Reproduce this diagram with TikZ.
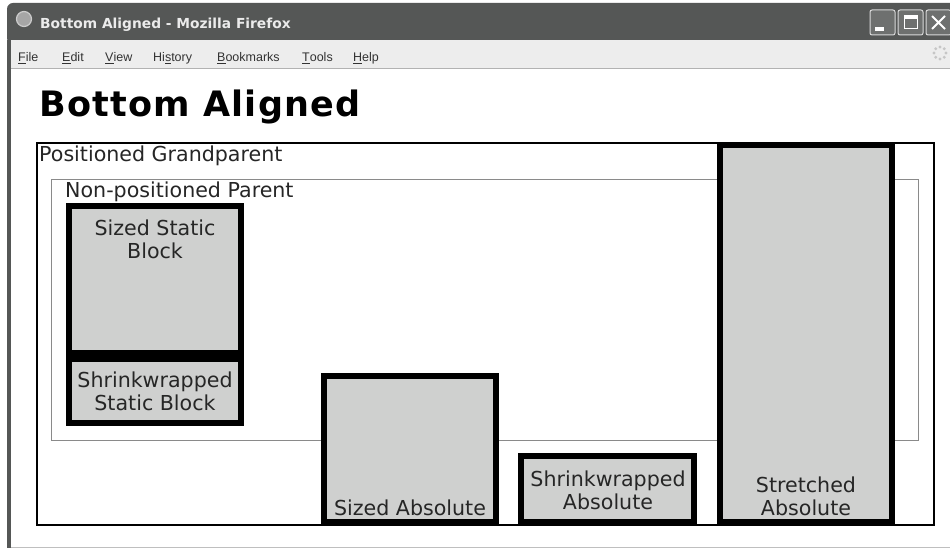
\documentclass[tikz,border=0pt]{standalone}
\usepackage{fontspec}
\setmainfont{DejaVu Sans}
\newfontfamily\menufont{Liberation Sans}
\newfontfamily\headfont[LetterSpace=3.5]{DejaVu Sans}
\definecolor{blockgray}{HTML}{CFD0CF}
\definecolor{titlebar}{HTML}{555756}
\definecolor{menubar}{HTML}{EDEDED}
\definecolor{parentline}{HTML}{8A8A8A}

\begin{document}
\begin{tikzpicture}[x=1pt,y=-1pt,
  blk/.style={draw=black,fill=blockgray,line width=6pt},
  lbl/.style={font=\fontsize{20.6}{23}\selectfont,text=black!85,align=center,inner sep=0pt},
  menu/.style={font=\menufont\fontsize{12.5}{14}\selectfont,text=black!80,anchor=base west,inner sep=0pt},
  winbtn/.style={draw=white!85!black,fill=titlebar!85!white,rounded corners=2pt,line width=1pt}]
\useasboundingbox (0,0) rectangle (950,548); \fill[white] (0,0) rectangle (950,548);
\fill[titlebar,rounded corners=6pt] (7,3) rectangle (960,44); \fill[menubar] (11,40) rectangle (950,68);
\draw[gray!60] (11,68.5)--(950,68.5); \fill[titlebar] (7,40) rectangle (11,548); \draw[gray!50] (11,547)--(950,547);
\draw[white!80!black,fill=gray!70,line width=1.2pt] (24,19) circle (7.5);
\node[anchor=base west,inner sep=0pt,text=white!92!black,font=\bfseries\fontsize{13.8}{15}\selectfont] (wintitle) at (40,29) {Bottom Aligned - Mozilla Firefox};
\foreach \x in {870,898,926}{\draw[winbtn] (\x,10) rectangle ++(25,25);}
\fill[white] (875,27) rectangle (884,31); \draw[white,line width=1pt] (904,16) rectangle (917,29); \fill[white] (904,16) rectangle (917,19);
\draw[white,line width=2pt] (932,16)--(945,29) (932,29)--(945,16);
\foreach \a in {0,45,...,315}{\fill[gray!45] (940,53) ++(\a:6) circle (1.6);}
\foreach \x/\name/\txt in {18/mfile/{\underline{F}ile},62/medit/{\underline{E}dit},105/mview/{\underline{V}iew},153/mhist/{Hi\underline{s}tory},217/mbook/{\underline{B}ookmarks},302/mtools/{\underline{T}ools},353/mhelp/{\underline{H}elp}}
  {\node[menu] (\name) at (\x,62) {\txt};}
\node[anchor=base west,inner sep=0pt,font=\headfont\bfseries\fontsize{35}{40}\selectfont] (heading) at (39,117) {Bottom Aligned};
\draw[line width=2pt] (37,143) rectangle (934,525); \draw[parentline,line width=1pt] (51.5,179.5) rectangle (918.5,440.5);
\node[lbl,anchor=base west] (grandparent) at (39,162) {Positioned Grandparent};
\node[lbl,anchor=base west] (parent) at (65,198) {Non-positioned Parent};
\draw[blk] (69,206) rectangle (241,353); \draw[blk] (69,359) rectangle (241,423);
\draw[blk] (324,376) rectangle (496,522); \draw[blk] (521,456) rectangle (694,522); \draw[blk] (720,145) rectangle (892,522);
\node[lbl,anchor=north] (sizedstatic) at (155,219.5) {Sized Static\\Block};
\node[lbl,anchor=north] (shrinkstatic) at (155,371.5) {Shrinkwrapped\\Static Block};
\node[lbl,anchor=base] (sizedabs) at (410,515) {Sized Absolute};
\node[lbl,anchor=north] (shrinkabs) at (608,470.5) {Shrinkwrapped\\Absolute};
\node[lbl,anchor=north] (stretchabs) at (806,476.5) {Stretched\\Absolute};
\end{tikzpicture}
\end{document}
